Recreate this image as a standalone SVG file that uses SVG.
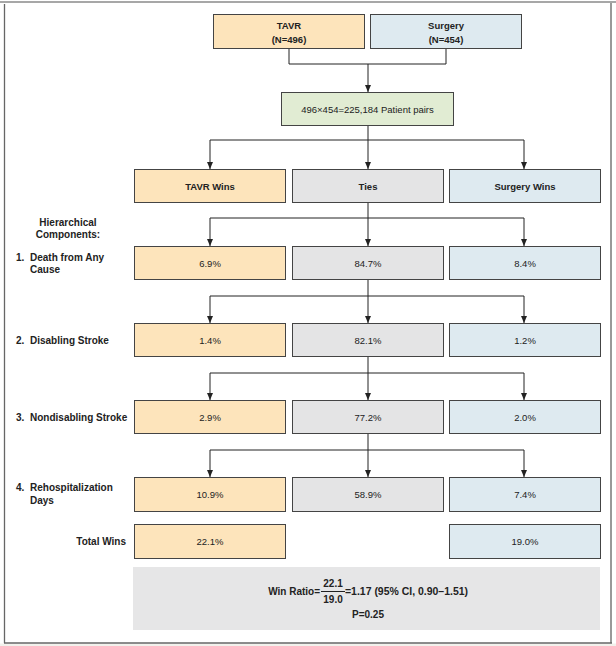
<svg xmlns="http://www.w3.org/2000/svg" width="616" height="646" viewBox="0 0 616 646">
<style>
text{font-family:"Liberation Sans",Arial,sans-serif;fill:#222;}
.b{font-weight:bold;font-size:9.5px;}
.lab{font-weight:bold;font-size:10px;}
.v{font-size:9.5px;}
.m{text-anchor:middle;}
.box{stroke:#444;stroke-width:1;}
.tavr{fill:#fde4bb;}
.surg{fill:#deeaf0;}
.tie{fill:#e4e4e5;}
.pair{fill:#e1ecd3;}
.con{fill:none;stroke:#222;stroke-width:1;}
</style>
<defs>
<marker id="ar" markerUnits="userSpaceOnUse" markerWidth="8" markerHeight="6" refX="7" refY="3" orient="auto">
<path d="M0,0 L7,3 L0,6 z" fill="#222"/>
</marker>
</defs>
<rect x="0" y="0" width="616" height="646" fill="#fff"/>
<rect x="0" y="643.5" width="616" height="3" fill="#f2f1ec"/>
<g id="frame">
<line x1="0" y1="2" x2="616" y2="2" stroke="#8a8a8a" stroke-width="1.5"/>
<line x1="4.5" y1="4" x2="4.5" y2="643" stroke="#666" stroke-width="1.3"/>
<line x1="611" y1="3" x2="611" y2="643" stroke="#999" stroke-width="2"/>
<line x1="4" y1="643" x2="612" y2="643" stroke="#666" stroke-width="1.3"/>
</g>
<g id="connectors">
<path class="con" d="M289,49 V64 H446 V49"/>
<path class="con" d="M368,64 V92" marker-end="url(#ar)"/>
<path class="con" d="M368,126 V169" marker-end="url(#ar)"/>
<path class="con" d="M210,140 H524"/>
<path class="con" d="M210,140 V169" marker-end="url(#ar)"/>
<path class="con" d="M524,140 V169" marker-end="url(#ar)"/>
<path class="con" d="M368,203 V246" marker-end="url(#ar)"/>
<path class="con" d="M210,218 H524"/>
<path class="con" d="M210,218 V246" marker-end="url(#ar)"/>
<path class="con" d="M524,218 V246" marker-end="url(#ar)"/>
<path class="con" d="M368,280 V323" marker-end="url(#ar)"/>
<path class="con" d="M210,296 H524"/>
<path class="con" d="M210,296 V323" marker-end="url(#ar)"/>
<path class="con" d="M524,296 V323" marker-end="url(#ar)"/>
<path class="con" d="M368,357 V400" marker-end="url(#ar)"/>
<path class="con" d="M210,373 H524"/>
<path class="con" d="M210,373 V400" marker-end="url(#ar)"/>
<path class="con" d="M524,373 V400" marker-end="url(#ar)"/>
<path class="con" d="M368,434 V477" marker-end="url(#ar)"/>
<path class="con" d="M210,450 H524"/>
<path class="con" d="M210,450 V477" marker-end="url(#ar)"/>
<path class="con" d="M524,450 V477" marker-end="url(#ar)"/>
</g>
<g id="tavr"><rect class="box tavr" x="213.5" y="14.5" width="151" height="34"/><text class="b m" x="289" y="29">TAVR</text><text class="b m" x="289" y="43">(N=496)</text></g>
<g id="surgery"><rect class="box surg" x="370.5" y="14.5" width="151" height="34"/><text class="b m" x="446" y="29">Surgery</text><text class="b m" x="446" y="43">(N=454)</text></g>
<g id="pairs"><rect class="box pair" x="281.5" y="92.5" width="172" height="33"/><text class="v m" x="367.5" y="112.5">496×454=225,184 Patient pairs</text></g>
<g id="tavrwins"><rect class="box tavr" x="134.5" y="169.5" width="151" height="33"/><text class="b m" x="210" y="189.5">TAVR Wins</text></g>
<g id="ties"><rect class="box tie" x="292.5" y="169.5" width="151" height="33"/><text class="b m" x="368" y="189.5">Ties</text></g>
<g id="surgwins"><rect class="box surg" x="449.5" y="169.5" width="151" height="33"/><text class="b m" x="525" y="189.5">Surgery Wins</text></g>
<g id="labels">
<text class="lab m" x="68" y="226">Hierarchical</text>
<text class="lab m" x="68" y="238">Components:</text>
<text class="lab" x="16" y="261">1.</text><text class="lab" x="30" y="261">Death from Any</text><text class="lab" x="30" y="273">Cause</text>
<text class="lab" x="16" y="344">2.</text><text class="lab" x="30" y="344">Disabling Stroke</text>
<text class="lab" x="16" y="421">3.</text><text class="lab" x="30" y="421">Nondisabling Stroke</text>
<text class="lab" x="16" y="491">4.</text><text class="lab" x="30" y="491">Rehospitalization</text><text class="lab" x="30" y="504">Days</text>
<text class="lab" x="126" y="545" text-anchor="end">Total Wins</text>
</g>
<g id="r1t"><rect class="box tavr" x="134.5" y="246.5" width="151" height="33"/><text class="v m" x="210" y="266.5">6.9%</text></g>
<g id="r1e"><rect class="box tie" x="292.5" y="246.5" width="151" height="33"/><text class="v m" x="368" y="266.5">84.7%</text></g>
<g id="r1s"><rect class="box surg" x="449.5" y="246.5" width="151" height="33"/><text class="v m" x="525" y="266.5">8.4%</text></g>
<g id="r2t"><rect class="box tavr" x="134.5" y="323.5" width="151" height="33"/><text class="v m" x="210" y="343.5">1.4%</text></g>
<g id="r2e"><rect class="box tie" x="292.5" y="323.5" width="151" height="33"/><text class="v m" x="368" y="343.5">82.1%</text></g>
<g id="r2s"><rect class="box surg" x="449.5" y="323.5" width="151" height="33"/><text class="v m" x="525" y="343.5">1.2%</text></g>
<g id="r3t"><rect class="box tavr" x="134.5" y="400.5" width="151" height="33"/><text class="v m" x="210" y="420.5">2.9%</text></g>
<g id="r3e"><rect class="box tie" x="292.5" y="400.5" width="151" height="33"/><text class="v m" x="368" y="420.5">77.2%</text></g>
<g id="r3s"><rect class="box surg" x="449.5" y="400.5" width="151" height="33"/><text class="v m" x="525" y="420.5">2.0%</text></g>
<g id="r4t"><rect class="box tavr" x="134.5" y="477.5" width="151" height="34"/><text class="v m" x="210" y="498">10.9%</text></g>
<g id="r4e"><rect class="box tie" x="292.5" y="477.5" width="151" height="34"/><text class="v m" x="368" y="498">58.9%</text></g>
<g id="r4s"><rect class="box surg" x="449.5" y="477.5" width="151" height="34"/><text class="v m" x="525" y="498">7.4%</text></g>
<g id="totalt"><rect class="box tavr" x="134.5" y="524.5" width="151" height="34"/><text class="v m" x="210" y="545">22.1%</text></g>
<g id="totals"><rect class="box surg" x="449.5" y="524.5" width="151" height="34"/><text class="v m" x="525" y="545">19.0%</text></g>
<g id="winratio">
<rect x="133" y="567" width="467" height="63" fill="#e6e6e7"/>
<text class="lab" x="320" y="595" text-anchor="end">Win Ratio=</text>
<text class="lab m" x="333" y="587">22.1</text>
<line x1="321" y1="591.5" x2="345" y2="591.5" stroke="#222" stroke-width="1"/>
<text class="lab m" x="333" y="603">19.0</text>
<text class="lab" x="345" y="595" textLength="123" lengthAdjust="spacingAndGlyphs">=1.17 (95% CI, 0.90–1.51)</text>
<text class="lab m" x="368" y="618">P=0.25</text>
</g>
</svg>
